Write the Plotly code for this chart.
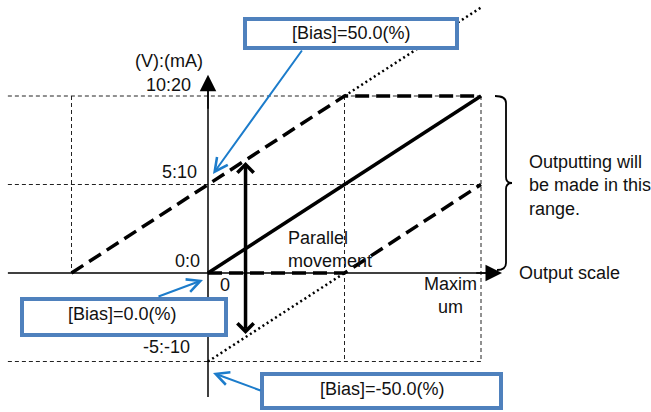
import numpy as np
import plotly.graph_objects as go

# ---------------- data (input % on x, output V on y) ----------------
bias0_x = [0, 100]
bias0_y = [0, 10]

bias50_x = [-50, 50, 100]
bias50_y = [0, 10, 10]
bias50_clip_x = [50, 100]
bias50_clip_y = [10, 15]

biasm50_x = [0, 50, 100]
biasm50_y = [0, 0, 5]
biasm50_clip_x = [0, 50]
biasm50_clip_y = [-5, 0]

grid_y = [10, 5, -5]
grid_x = [-50, 50, 100]
y_tick_vals = [10, 5, 0, -5]
y_tick_labels = ["10:20", "5:10", "0:0", "-5:-10"]
move_x = 13.75  # position of the "parallel movement" arrow

box_labels = ["[Bias]=50.0(%)", "[Bias]=0.0(%)", "[Bias]=-50.0(%)"]

# ---------------- layout geometry ----------------
W, H = 651, 412
X0PX, XS = 208, 2.73
Y0PX, YS = 273, 17.7
xr = [(0 - X0PX) / XS, (W - X0PX) / XS]
yr = [(Y0PX - H) / YS, (Y0PX - 0) / YS]

def P(px, py):
    return px / W, 1 - py / H

FONT = "Liberation Sans, Arial, sans-serif"
FS = 18
BLUE_BOX = "#4F81BD"
BLUE_ARR = "#1C7CCB"

fig = go.Figure()

def line(x, y, width, dash="solid", color="black"):
    fig.add_trace(go.Scatter(x=x, y=y, mode="lines",
                             line=dict(color=color, width=width, dash=dash),
                             hoverinfo="skip", showlegend=False))

grid_left = -73.3
# thin dashed grid lines
for gy in grid_y:
    line([grid_left, max(bias0_x)], [gy, gy], 1, "4px,3px", "#222")
for gx in grid_x:
    bottom = 0 if gx < 0 else min(grid_y)
    line([gx, gx], [max(grid_y), bottom], 1, "4px,3px", "#222")

# axes
x_axis_end = 107.7
y_axis_top = 11.2
y_axis_bottom = -7.0
line([grid_left, x_axis_end - 5], [0, 0], 1.5)
line([0, 0], [y_axis_bottom, y_axis_top - 0.8], 1.5)

# characteristic lines
line(bias50_clip_x, bias50_clip_y, 2.5, "2px,3px")
line(biasm50_clip_x, biasm50_clip_y, 2.5, "2px,3px")
line(bias50_x, bias50_y, 3.5, "14px,7px")
line(biasm50_x, biasm50_y, 3.5, "14px,7px")
line(bias0_x, bias0_y, 3.5)

annotations = []

# axis arrowheads
annotations.append(dict(x=x_axis_end, y=0, xref="x", yref="y", ax=x_axis_end - 10, ay=0,
                        axref="x", ayref="y", text="", showarrow=True, arrowhead=2,
                        arrowsize=2.2, arrowwidth=1.5, arrowcolor="black", standoff=0))
annotations.append(dict(x=0, y=y_axis_top, xref="x", yref="y", ax=0, ay=y_axis_top - 2,
                        axref="x", ayref="y", text="", showarrow=True, arrowhead=2,
                        arrowsize=2.2, arrowwidth=1.5, arrowcolor="black", standoff=0))

# parallel movement double arrow
top_y = float(np.interp(move_x, bias50_x, bias50_y))
bot_y = float(np.interp(move_x, biasm50_clip_x, biasm50_clip_y))
annotations.append(dict(x=move_x, y=top_y - 0.1, xref="x", yref="y", ax=move_x, ay=bot_y + 0.1,
                        axref="x", ayref="y", text="", showarrow=True,
                        arrowside="end+start", arrowhead=4, startarrowhead=4,
                        arrowsize=0.9, startarrowsize=0.9, arrowwidth=3.5,
                        arrowcolor="black", standoff=0, startstandoff=0))

# y tick labels
tick_px = [(193, 85), (199, 172), (202, 261), (192, 347)]
for lab, (px, py) in zip(y_tick_labels, tick_px):
    x, y = P(px, py)
    annotations.append(dict(x=x, y=y, xref="paper", yref="paper", text=lab, showarrow=False,
                            xanchor="right", yanchor="middle", font=dict(size=FS)))

def text(px, py, s, xanchor="center", align="center"):
    x, y = P(px, py)
    annotations.append(dict(x=x, y=y, xref="paper", yref="paper", text=s, showarrow=False,
                            xanchor=xanchor, yanchor="middle", align=align,
                            font=dict(size=FS)))

text(169, 61, "(V):(mA)")
text(225, 285, "0")
text(450, 295, "Maxim<br>um")
text(286, 250, "Parallel<br>movement", "left", "left")
text(527, 185, "Outputting will<br>be made in this<br>range.", "left", "left")
text(517, 273, "Output scale", "left", "left")

shapes = []
# bias boxes
boxes = [((243, 17, 459, 50), (351, 33)),
         ((20, 297, 228, 337), (123, 314)),
         ((260, 372, 503, 410), (382, 389))]
for lab, ((l, t, r, b), (cx, cy)) in zip(box_labels, boxes):
    x0, y1 = P(l + 2, t + 2)
    x1, y0 = P(r - 2, b - 2)
    shapes.append(dict(type="rect", xref="paper", yref="paper", x0=x0, x1=x1, y0=y0, y1=y1,
                       line=dict(color=BLUE_BOX, width=4), fillcolor="white", layer="above"))
    text(cx, cy, lab)

# blue pointer arrows (tip, start in px)
pointers = [((213, 174), (303, 49)), ((203, 280), (157, 297)), ((213, 373), (262, 391))]
for (tx, ty), (sx, sy) in pointers:
    x, y = P(tx, ty)
    annotations.append(dict(x=x, y=y, xref="paper", yref="paper", ax=sx - tx, ay=sy - ty,
                            text="", showarrow=True, arrowhead=5, arrowsize=1.3,
                            arrowwidth=2, arrowcolor=BLUE_ARR, standoff=0))

# curly brace
def pp(px, py):
    x, y = P(px, py)
    return f"{x:.5f},{y:.5f}"
path = ("M " + pp(495, 96) + " Q " + pp(506, 96) + " " + pp(506, 103) +
        " L " + pp(506, 177) + " Q " + pp(506, 183) + " " + pp(512, 183) +
        " Q " + pp(506, 183) + " " + pp(506, 189) +
        " L " + pp(506, 263) + " Q " + pp(506, 270) + " " + pp(497, 270))
shapes.append(dict(type="path", xref="paper", yref="paper", path=path,
                   line=dict(color="black", width=1.8)))

fig.update_layout(
    width=W, height=H, autosize=False,
    margin=dict(l=0, r=0, t=0, b=0),
    paper_bgcolor="white", plot_bgcolor="white",
    xaxis=dict(range=xr, visible=False, fixedrange=True),
    yaxis=dict(range=yr, visible=False, fixedrange=True),
    font=dict(family=FONT, size=FS, color="#111"),
    annotations=annotations, shapes=shapes,
)

fig.write_html("out.html", post_script="document.body.style.margin='0px';",
               config={"displayModeBar": False})
